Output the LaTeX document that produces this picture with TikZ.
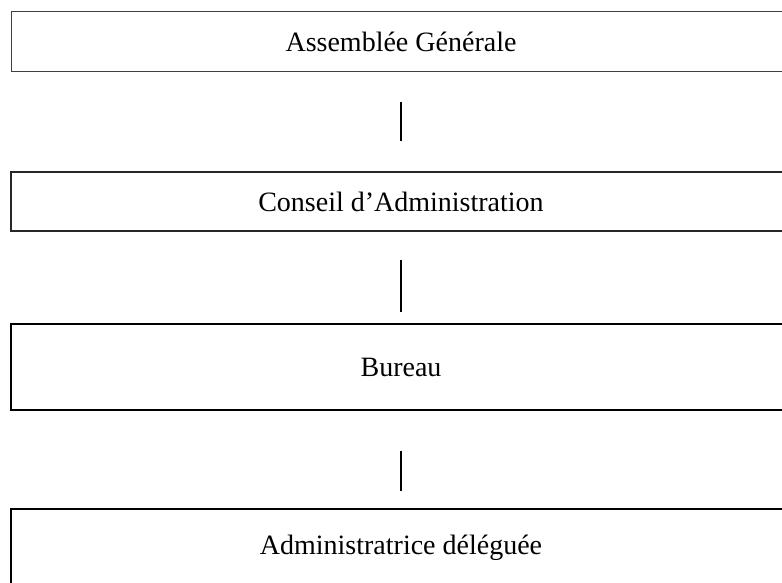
\documentclass[tikz,border=0pt]{standalone}
\usepackage{fontspec}
\setmainfont{Liberation Serif}
\begin{document}
\begin{tikzpicture}[x=0.5pt,y=-0.5pt,every node/.style={draw,rectangle,font=\fontsize{14}{17}\selectfont,minimum width=390pt,inner sep=0pt}]
\useasboundingbox (0,0) rectangle (782,583);
\node[draw=black!75,line width=0.5pt,minimum height=30pt] (assemblee) at (401,42) {Assemblée Générale};
\node[draw=black!85,line width=0.6pt,minimum height=29.5pt] (conseil) at (401,201.5) {Conseil d’Administration};
\node[line width=1.1pt,minimum height=43pt] (bureau) at (401,367) {Bureau};
\node[line width=1.1pt,minimum height=39pt] (admin) at (401,548) {Administratrice déléguée};

\draw[line width=0.75pt,shorten <=15pt,shorten >=15pt] (assemblee) -- (conseil);
\draw[line width=0.75pt,shorten <=14pt,shorten >=5.5pt] (conseil) -- (bureau);
\draw[line width=0.75pt,shorten <=20pt,shorten >=8.5pt] (bureau) -- (admin);
\end{tikzpicture}
\end{document}
